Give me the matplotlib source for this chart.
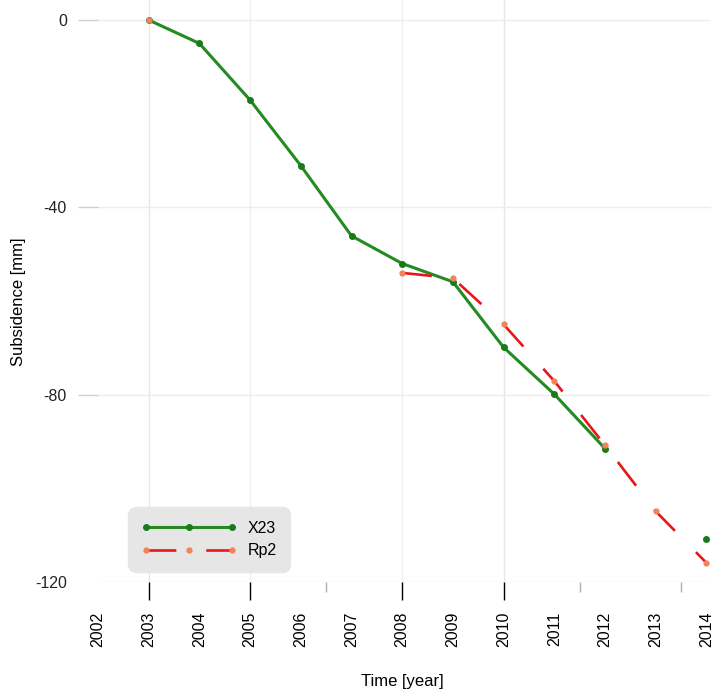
import numpy as np
import matplotlib
matplotlib.use('Agg')
import matplotlib.pyplot as plt

plt.rcParams['font.family'] = ['Liberation Sans', 'DejaVu Sans']
plt.rcParams['lines.scale_dashes'] = False

# data
years = [2003, 2004, 2005, 2006, 2007, 2008, 2009, 2010, 2011, 2012, 2013, 2014]
x23 = [0, -5.0, -17.1, -31.1, -46.1, -52.0, -55.9, -69.9, -79.9, -91.5, np.nan, -110.9]
rp2 = [0, np.nan, np.nan, np.nan, np.nan, -54.0, -55.1, -65.0, -77.1, -90.8, -104.9, -115.9]

tick_years = list(range(2002, 2015))
grid_years = [2003, 2005, 2008, 2010]
long_marks = [2003, 2005, 2008, 2010]
long_colors = ['#333333', '#c8c8c8', '#c8c8c8', '#333333']
short_marks = [2006.5, 2011.5, 2013.5]
y_ticks = [0, -40, -80, -120]

green = '#228B22'
red = '#E8161B'
orange = '#F0845A'

fig = plt.figure(figsize=(7.11, 6.92), dpi=100)
ax = fig.add_axes([98 / 711, 110 / 692, 613 / 711, 582 / 692])

grid_cols = ['#e6e6e6', '#efefef', '#efefef', '#e6e6e6']
for yr, c in zip(grid_years, grid_cols):
    ax.axvline(yr, color=c, lw=1, zorder=0)
ax.yaxis.grid(True, color='#ededed', lw=1, zorder=0)
ax.set_axisbelow(True)

ax.plot(years, x23, color=green, lw=2.2, marker='o', ms=4,
        mfc='#1a7a1a', mec='#1a7a1a', label='X23', zorder=3)
ax.plot(years, rp2, color=red, lw=1.9, dashes=(21.5, 21.5), marker='o', ms=3.5,
        mfc=orange, mec=orange, label='Rp2', zorder=4, clip_on=False)

ax.set_xlim(2002.0, 2002 + 613 / 50.7)
ax.set_ylim(-120, 20 / 4.68)

for s in ax.spines.values():
    s.set_visible(False)

# year labels (no tick lines)
ax.set_xticks(tick_years)
ax.set_xticklabels([str(y) for y in tick_years], rotation=90, fontsize=11.5)
ax.tick_params(axis='x', which='major', length=0, pad=21.5)
# short marks
ax.set_xticks(short_marks, minor=True)
ax.tick_params(axis='x', which='minor', length=7, width=1, color='#b0b0b0')

# long marks on a secondary axis
sec = ax.secondary_xaxis('bottom')
sec.spines['bottom'].set_visible(False)
sec.set_xticks(long_marks)
sec.set_xticklabels([''] * len(long_marks))
sec.tick_params(axis='x', length=13, width=1)
for t, c in zip(sec.xaxis.get_major_ticks(), long_colors):
    t.tick1line.set_color(c)

ax.set_yticks(y_ticks)
ax.set_yticklabels([str(v) for v in y_ticks], fontsize=11.5, color='#222222')
ax.tick_params(axis='y', length=14.4, width=1, color='#cfcfcf', pad=8)
ax.yaxis.get_major_ticks()[-1].tick1line.set_visible(False)

ax.set_xlabel('Time [year]', fontsize=12)
ax.xaxis.set_label_coords(0.496, -0.158)
ax.set_ylabel('Subsidence [mm]', fontsize=12)
ax.yaxis.set_label_coords(-0.118, 0.481)

leg = ax.legend(loc='upper left', bbox_to_anchor=(128 / 711, 1 - 507 / 692),
                bbox_transform=fig.transFigure, borderaxespad=0, fontsize=11.5,
                numpoints=3, handlelength=5.95, handletextpad=0.7,
                borderpad=0.85, labelspacing=0.48, frameon=True)
frame = leg.get_frame()
frame.set_facecolor('#e6e6e6')
frame.set_edgecolor('#e6e6e6')
frame.set_alpha(1)
frame.set_boxstyle('round,pad=0,rounding_size=0.55')

fig.savefig('out.png', dpi=100)
